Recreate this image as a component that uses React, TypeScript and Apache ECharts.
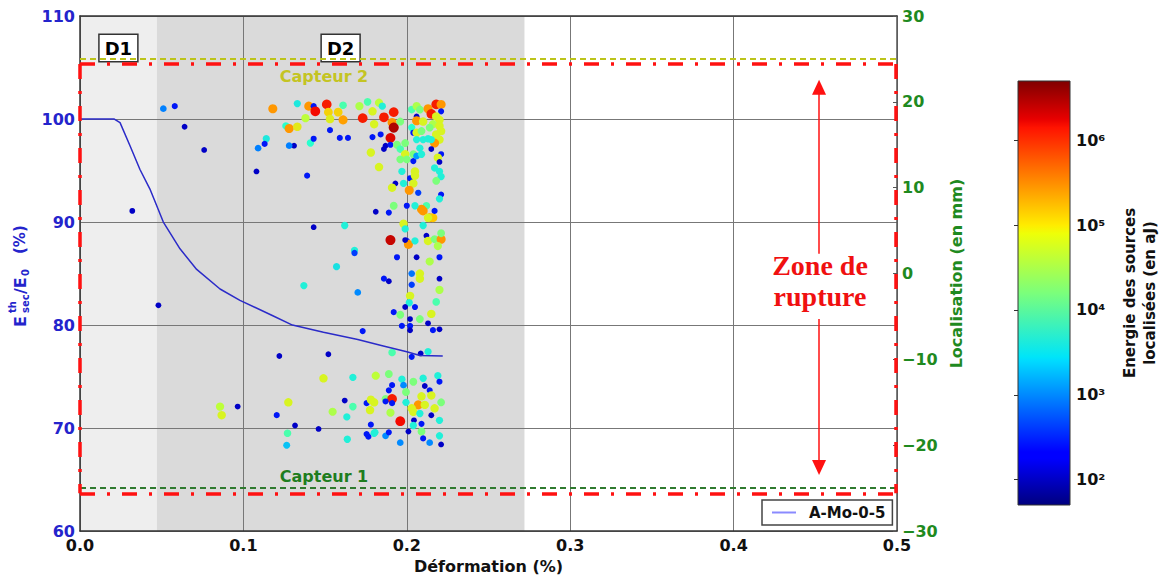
import React, { useEffect, useRef } from "react";
import * as echarts from "echarts";

// ---------------- data ----------------
const strainRange = [0, 0.5];
const modulusRange = [60, 110];
const locRange = [-30, 30];
const energyTickExponents = [2, 3, 4, 5, 6];
const energyLogRange = [1.7, 6.7];

// secant modulus curve (left axis)
const curveStrain = [0, 0.021, 0.0245, 0.0306, 0.0367, 0.0428, 0.051, 0.0612, 0.0714, 0.0857, 0.0979, 0.118, 0.13, 0.149, 0.17, 0.185, 0.2, 0.208, 0.222];
const curveModulus = [100, 100, 99.65, 97.4, 95.1, 93.2, 90.0, 87.4, 85.4, 83.5, 82.4, 80.9, 80.0, 79.3, 78.6, 78.0, 77.4, 77.05, 77.0];

// damage zones
const zoneNames = ["D1", "D2"];
const zoneStart = [0, 0.047];
const zoneEnd = [0.047, 0.272];

// sensors (right axis, mm)
const sensorNames = ["Capteur 2", "Capteur 1"];
const sensorLoc = [25, -25];

// rupture zone frame
const ruptureStrain = [0, 0.4995];
const ruptureLoc = [-25.6, 24.4];
const arrowStrain = 0.4523;
const arrowUp = [2.3, 21.7];
const arrowDown = [-5.3, -22.6];

// AE events: [strain (%), localisation (mm), log10 energy (aJ)]
const aeEvents: number[][] = [
  [0.051, 19.2, 2.95], [0.058, 19.5, 2.35], [0.064, 17.1, 2.0], [0.076, 14.4, 2.0], [0.032, 7.3, 2.0], [0.048, -3.7, 2.0],
  [0.118, 19.2, 5.45], [0.114, 15.7, 3.55], [0.109, 14.6, 2.95], [0.113, 15.1, 2.35], [0.108, 11.9, 2.0],
  [0.126, 17.2, 3.7], [0.128, 16.9, 5.45], [0.133, 17.1, 4.9], [0.133, 19.8, 3.55], [0.131, 14.9, 2.0], [0.128, 14.9, 2.95],
  [0.14, 19.5, 5.45], [0.143, 19.5, 2.35], [0.151, 19.7, 6.1], [0.144, 18.9, 6.2], [0.152, 18.8, 5.1], [0.158, 18.8, 5.1],
  [0.161, 19.6, 3.9], [0.153, 18.0, 4.85], [0.161, 17.9, 5.4], [0.138, 18.1, 4.6], [0.139, 11.4, 2.35], [0.141, 15.2, 3.7],
  [0.143, 15.7, 2.35], [0.153, 16.7, 2.35], [0.159, 15.8, 2.35], [0.164, 15.8, 2.35], [0.173, 18.1, 6.1], [0.171, 19.5, 4.5],
  [0.176, 20.0, 3.9], [0.179, 18.9, 4.8], [0.183, 19.9, 4.6], [0.185, 19.5, 3.6], [0.186, 18.2, 6.1], [0.192, 18.8, 6.1],
  [0.191, 17.6, 5.45], [0.192, 17.0, 6.5], [0.19, 15.8, 6.3], [0.196, 17.7, 4.2], [0.18, 17.4, 4.8], [0.179, 15.9, 2.35],
  [0.184, 16.2, 2.35], [0.187, 14.9, 2.0], [0.186, 14.5, 2.0], [0.19, 15.0, 2.35], [0.178, 14.1, 4.8], [0.183, 12.4, 4.8],
  [0.194, 15.0, 4.2], [0.196, 14.5, 3.9], [0.199, 15.2, 4.2], [0.204, 13.9, 4.2], [0.199, 13.9, 4.8], [0.2, 13.3, 4.2],
  [0.196, 13.3, 4.2], [0.197, 11.9, 3.6], [0.205, 11.9, 4.8], [0.204, 13.1, 2.35], [0.202, 11.1, 2.35], [0.205, 11.4, 4.8],
  [0.193, 10.5, 2.0], [0.198, 10.5, 3.6], [0.204, 10.5, 4.8], [0.191, 10.0, 4.8], [0.2015, 9.7, 5.45], [0.207, 9.4, 2.6],
  [0.203, 19.1, 3.9], [0.206, 19.5, 4.5], [0.208, 19.1, 4.2], [0.206, 18.3, 2.0], [0.206, 17.8, 5.45], [0.21, 17.7, 4.8],
  [0.203, 17.0, 3.7], [0.204, 16.4, 2.35], [0.206, 16.4, 4.8], [0.209, 16.6, 4.2], [0.206, 15.6, 3.6], [0.21, 15.6, 3.6],
  [0.213, 15.7, 3.6], [0.208, 14.6, 3.6], [0.206, 13.7, 3.1], [0.209, 13.9, 3.6], [0.213, 19.2, 5.45], [0.218, 19.7, 6.1],
  [0.221, 19.7, 5.45], [0.215, 18.6, 6.1], [0.221, 18.9, 2.35], [0.218, 18.3, 4.8], [0.22, 17.9, 4.8], [0.216, 17.4, 4.5],
  [0.22, 17.2, 4.8], [0.214, 17.0, 4.2], [0.221, 16.6, 4.8], [0.218, 16.2, 4.8], [0.22, 15.6, 4.8], [0.217, 15.2, 5.45],
  [0.215, 15.6, 3.6], [0.215, 14.5, 2.0], [0.221, 13.9, 2.35], [0.219, 13.5, 4.8], [0.22, 13.0, 2.0], [0.217, 12.3, 3.6],
  [0.22, 11.9, 3.6], [0.221, 11.3, 3.6], [0.218, 10.8, 4.2], [0.221, 9.2, 2.35], [0.22, 8.7, 3.6], [0.192, 7.9, 4.2],
  [0.2, 7.9, 2.35], [0.212, 7.9, 3.9], [0.209, 7.5, 5.45], [0.181, 7.2, 2.0], [0.189, 7.1, 2.35], [0.205, 7.9, 3.6],
  [0.21, 7.3, 5.45], [0.214, 6.5, 5.45], [0.216, 6.5, 5.2], [0.217, 7.3, 2.35], [0.213, 6.5, 4.8], [0.198, 5.8, 4.8],
  [0.21, 5.6, 3.6], [0.199, 5.2, 3.6], [0.19, 3.9, 6.4], [0.2, 3.8, 2.35], [0.201, 3.4, 5.45], [0.205, 3.8, 3.6],
  [0.212, 4.4, 2.0], [0.213, 3.8, 4.8], [0.217, 4.0, 4.2], [0.221, 4.0, 5.45], [0.221, 4.7, 4.2], [0.219, 3.2, 4.5],
  [0.194, 1.9, 2.35], [0.206, 1.9, 2.0], [0.22, 1.9, 2.35], [0.214, 1.4, 4.5], [0.199, 3.9, 2.0], [0.143, 5.4, 2.0],
  [0.162, 5.6, 3.6], [0.168, 2.7, 3.6], [0.168, 2.4, 2.6], [0.157, 0.8, 3.5], [0.203, 0.0, 2.9], [0.208, 0.0, 4.8],
  [0.208, -0.6, 4.8], [0.186, -0.6, 2.35], [0.189, -0.9, 2.0], [0.137, -1.4, 3.6], [0.203, -1.3, 2.6], [0.17, -2.2, 3.0],
  [0.202, -2.6, 4.8], [0.2015, -3.4, 3.6], [0.199, -3.9, 2.0], [0.205, -3.9, 2.35], [0.192, -4.5, 2.35], [0.196, -4.8, 4.2],
  [0.215, -4.7, 4.8], [0.202, -5.3, 2.0], [0.208, -5.3, 4.2], [0.197, -6.1, 2.35], [0.202, -6.1, 2.35], [0.213, -5.8, 2.0],
  [0.202, -6.6, 2.0], [0.216, -6.6, 2.35], [0.173, -6.7, 2.35], [0.22, -0.6, 2.0], [0.22, -1.9, 4.5], [0.218, -3.3, 3.9],
  [0.22, -6.5, 2.0], [0.122, -9.6, 2.0], [0.152, -9.4, 2.0], [0.191, -9.2, 3.9], [0.2085, -9.3, 2.0], [0.213, -9.1, 3.6],
  [0.203, -9.7, 2.35],
  [0.149, -12.2, 4.8], [0.167, -12.1, 3.6], [0.181, -11.9, 4.6], [0.189, -11.7, 4.2], [0.197, -12.3, 3.6], [0.191, -13.0, 2.35],
  [0.204, -12.6, 4.2], [0.198, -13.0, 3.0], [0.21, -12.2, 3.6], [0.219, -11.9, 3.6], [0.22, -12.6, 2.35], [0.211, -13.1, 2.0],
  [0.214, -13.6, 2.35], [0.189, -13.6, 2.35], [0.187, -14.6, 4.2], [0.191, -14.6, 6.1], [0.1995, -13.8, 4.2], [0.209, -14.3, 4.8],
  [0.215, -14.2, 4.8], [0.221, -15.0, 4.2], [0.191, -15.1, 2.35], [0.1995, -15.0, 3.6], [0.207, -15.3, 5.45], [0.203, -15.7, 4.8],
  [0.211, -15.3, 4.8], [0.217, -15.7, 4.8], [0.187, -14.9, 2.35], [0.18, -15.0, 4.8], [0.1775, -15.9, 4.8], [0.19, -16.2, 4.5],
  [0.204, -16.1, 4.8], [0.208, -16.3, 3.6], [0.215, -16.5, 2.0], [0.196, -17.2, 6.2], [0.2044, -17.1, 2.0], [0.204, -17.7, 3.6],
  [0.209, -17.5, 2.35], [0.22, -17.1, 3.6], [0.178, -17.6, 2.35], [0.1805, -18.5, 3.6], [0.187, -18.9, 3.0], [0.189, -18.5, 2.35],
  [0.201, -18.4, 2.0], [0.209, -18.4, 4.2], [0.21, -19.2, 2.35], [0.214, -19.7, 3.0], [0.22, -18.9, 3.6], [0.221, -19.9, 2.0],
  [0.196, -19.7, 3.0], [0.0857, -15.5, 4.6], [0.0867, -16.5, 4.8], [0.0965, -15.5, 2.0], [0.1275, -15.0, 4.8], [0.1204, -16.5, 2.35],
  [0.1316, -17.7, 2.0], [0.146, -18.1, 2.0], [0.127, -18.6, 3.9], [0.1265, -20.0, 3.3], [0.162, -14.8, 2.0], [0.1546, -16.1, 4.5],
  [0.1633, -16.7, 3.6], [0.167, -15.5, 3.9], [0.1636, -19.3, 3.6], [0.1754, -15.1, 2.35], [0.178, -14.7, 4.8], [0.1754, -18.7, 2.35],
  [0.1765, -19.0, 2.35], [0.18, -18.6, 3.6],
];

// ---------------- styling ----------------
const FONT = "DejaVu Sans";
const BLUE = "#2424cc";
const GREEN = "#1f8a1f";
const JET = ["#000080", "#0000f4", "#004cff", "#00b3ff", "#29ffce", "#7bff7b", "#ceff29", "#ffc600", "#ff6800", "#f40900", "#800000"];
const JET_STOPS: [number, string][] = [
  [0, "#00007f"], [0.11, "#0000ff"], [0.125, "#0000ff"], [0.34, "#00dbff"], [0.35, "#00e5f8"],
  [0.5, "#7bff7b"], [0.64, "#eeff08"], [0.66, "#ffec00"], [0.89, "#ff1300"], [0.91, "#e80000"], [1, "#800000"],
];
const SUP: Record<number, string> = { 2: "\u00b2", 3: "\u00b3", 4: "\u2074", 5: "\u2075", 6: "\u2076" };

function buildOption(): any {
  const curve = curveStrain.map((s, i) => [s, curveModulus[i]]);
  const zoneColors = ["#eeeeee", "#dadada"];
  const red = { color: "#ff1111", width: 3.5, type: [15, 12, 3, 12] };
  const arrowStyle = { color: "#ff1111", width: 1.5, type: "solid" };

  const sensorColors = ["#bcc41a", "#2f7a2f"];

  const yLabelParts = [
    { t: "E", x: 0, y: 0, s: 16 },
    { t: "th", x: 14, y: -8, s: 10 },
    { t: "sec", x: 14, y: 5, s: 10 },
    { t: "/E", x: 33, y: 0, s: 16 },
    { t: "0", x: 51, y: 5, s: 10 },
    { t: "(%)", x: 73, y: 0, s: 15 },
  ];

  return {
    animation: false,
    backgroundColor: "#ffffff",
    textStyle: { fontFamily: FONT },
    grid: [
      { left: 80, right: 264, top: 16, bottom: 46 },
      { left: 1018, top: 81, width: 62, height: 424 },
    ],
    legend: {
      data: [{ name: "A-Mo-0-5", icon: "rect", itemStyle: { color: "#8a8aff" } }],
      left: 762,
      top: 500,
      padding: [5, 7, 5, 10],
      itemWidth: 24,
      itemHeight: 2,
      borderColor: "#444",
      borderWidth: 1.5,
      borderRadius: 0,
      backgroundColor: "#fff",
      textStyle: { fontFamily: FONT, fontWeight: "bold", fontSize: 15, color: "#111", padding: [0, 0, 0, 8] },
    },
    visualMap: {
      type: "continuous",
      show: false,
      dimension: 2,
      seriesIndex: 2,
      min: energyLogRange[0],
      max: energyLogRange[1],
      inRange: { color: JET },
    },
    xAxis: [
      {
        type: "value",
        gridIndex: 0,
        min: strainRange[0],
        max: strainRange[1],
        interval: 0.1,
        position: "bottom",
        z: 2,
        axisLine: { show: true, onZero: false, lineStyle: { color: "#333", width: 1.5 } },
        axisTick: { show: false },
        axisLabel: { color: "#111", fontWeight: "bold", fontSize: 16, margin: 6, formatter: (v: number) => v.toFixed(1) },
        splitLine: { show: true, lineStyle: { color: "#777", width: 1 } },
        name: "Déformation (%)",
        nameLocation: "middle",
        nameGap: 24,
        nameTextStyle: { color: "#111", fontWeight: "bold", fontSize: 16 },
      },
      {
        type: "value",
        gridIndex: 0,
        min: strainRange[0],
        max: strainRange[1],
        position: "top",
        z: 2,
        axisLine: { show: true, onZero: false, lineStyle: { color: "#333", width: 1.5 } },
        axisTick: { show: false },
        axisLabel: { show: false },
        splitLine: { show: false },
      },
      { type: "value", gridIndex: 1, min: 0, max: 1, show: false },
    ],
    yAxis: [
      {
        type: "value",
        gridIndex: 0,
        min: modulusRange[0],
        max: modulusRange[1],
        interval: 10,
        position: "left",
        z: 2,
        axisLine: { show: true, onZero: false, lineStyle: { color: "#333", width: 1.5 } },
        axisTick: { show: false },
        axisLabel: { color: BLUE, fontWeight: "bold", fontSize: 16, margin: 5 },
        splitLine: { show: true, lineStyle: { color: "#777", width: 1 } },
      },
      {
        type: "value",
        gridIndex: 0,
        min: locRange[0],
        max: locRange[1],
        interval: 10,
        position: "right",
        z: 2,
        axisLine: { show: true, onZero: false, lineStyle: { color: "#555", width: 1.5 } },
        axisTick: { show: true, inside: true, length: 4, lineStyle: { color: "#555" } },
        axisLabel: {
          color: GREEN,
          fontWeight: "bold",
          fontSize: 16,
          margin: 5,
          formatter: (v: number) => (v < 0 ? "\u2212" + Math.abs(v) : String(v)),
        },
        splitLine: { show: false },
        name: "Localisation (en mm)",
        nameLocation: "middle",
        nameRotate: 90,
        nameGap: 50,
        nameTextStyle: { color: GREEN, fontWeight: "bold", fontSize: 16 },
      },
      {
        type: "value",
        gridIndex: 1,
        min: energyLogRange[0],
        max: energyLogRange[1],
        position: "right",
        axisLine: { show: false },
        axisTick: { show: true, inside: true, length: 4, customValues: energyTickExponents, lineStyle: { color: "#333" } },
        axisLabel: {
          show: true,
          customValues: energyTickExponents,
          color: "#111",
          fontWeight: "bold",
          fontSize: 16,
          margin: 6,
          formatter: (v: number) => "10" + SUP[Math.round(v)],
        },
        splitLine: { show: false },
        name: "Energie des sources\nlocalisées (en aJ)",
        nameLocation: "middle",
        nameRotate: 90,
        nameGap: 50,
        nameTextStyle: { color: "#111", fontWeight: "bold", fontSize: 15, lineHeight: 20 },
      },
    ],
    series: [
      {
        name: "zones",
        type: "line",
        xAxisIndex: 0,
        yAxisIndex: 0,
        data: [],
        z: 1,
        silent: true,
        markArea: {
          silent: true,
          z: 1,
          data: zoneNames.map((n, i) => [
            {
              name: n,
              xAxis: zoneStart[i],
              itemStyle: { color: zoneColors[i] },
              label: {
                show: true,
                position: "insideTop",
                offset: [0, 14],
                color: "#000",
                fontWeight: "bold",
                fontSize: 18,
                lineHeight: 20,
                fontFamily: FONT,
                backgroundColor: "#fff",
                borderColor: "#333",
                borderWidth: 1.5,
                padding: [3, 5, 3, 5],
              },
            },
            { xAxis: zoneEnd[i] },
          ]),
        },
      },
      {
        name: "A-Mo-0-5",
        type: "line",
        xAxisIndex: 0,
        yAxisIndex: 0,
        data: curve,
        symbol: "none",
        z: 4,
        lineStyle: { color: "#2b2bc8", width: 1.5 },
        itemStyle: { color: "#2b2bc8" },
      },
      {
        name: "AE",
        type: "scatter",
        xAxisIndex: 0,
        yAxisIndex: 1,
        data: aeEvents,
        z: 3,
        symbolSize: (v: number[]) => 5.5 + (v[2] - 1.7) * 0.95,
        itemStyle: { opacity: 1 },
        markLine: {
          silent: true,
          symbol: "none",
          label: { show: false },
          data: [
            [
              { coord: [strainRange[0], sensorLoc[0]], lineStyle: { color: sensorColors[0], width: 2, type: [6, 4] } },
              { coord: [strainRange[1], sensorLoc[0]] },
            ],
            [
              { coord: [strainRange[0], sensorLoc[1]], lineStyle: { color: sensorColors[1], width: 2, type: [6, 4] } },
              { coord: [strainRange[1], sensorLoc[1]] },
            ],
            [{ coord: [ruptureStrain[0], ruptureLoc[1]], lineStyle: red }, { coord: [ruptureStrain[1], ruptureLoc[1]] }],
            [{ coord: [ruptureStrain[0], ruptureLoc[0]], lineStyle: red }, { coord: [ruptureStrain[1], ruptureLoc[0]] }],
            [{ coord: [ruptureStrain[0], ruptureLoc[1]], lineStyle: red }, { coord: [ruptureStrain[0], ruptureLoc[0]] }],
            [{ coord: [ruptureStrain[1], ruptureLoc[1]], lineStyle: red }, { coord: [ruptureStrain[1], ruptureLoc[0]] }],
            [
              { coord: [arrowStrain, arrowUp[0]], symbol: "none", lineStyle: arrowStyle },
              { coord: [arrowStrain, arrowUp[1]], symbol: "triangle", symbolSize: [14, 15], itemStyle: { color: "#ff1111" } },
            ],
            [
              { coord: [arrowStrain, arrowDown[0]], symbol: "none", lineStyle: arrowStyle },
              { coord: [arrowStrain, arrowDown[1]], symbol: "triangle", symbolSize: [14, 15], itemStyle: { color: "#ff1111" } },
            ],
          ],
        },
      },
      {
        name: "colorbar",
        type: "custom",
        xAxisIndex: 2,
        yAxisIndex: 2,
        silent: true,
        data: [[0, energyLogRange[0]]],
        renderItem: (_p: any, api: any) => {
          const p0 = api.coord([0, energyLogRange[0]]);
          const p1 = api.coord([1, energyLogRange[1]]);
          return {
            type: "rect",
            shape: { x: p0[0], y: p1[1], width: p1[0] - p0[0], height: p0[1] - p1[1] },
            style: {
              fill: new echarts.graphic.LinearGradient(0, 1, 0, 0, JET_STOPS.map(([o, c]) => ({ offset: o, color: c }))),
              stroke: "#333",
              lineWidth: 1,
            },
          };
        },
      },
    ],
    graphic: [
      {
        type: "group",
        x: 20,
        y: 327,
        rotation: Math.PI / 2,
        children: yLabelParts.map((p) => ({
          type: "text",
          x: p.x,
          y: p.y,
          style: {
            text: p.t,
            fill: BLUE,
            fontSize: p.s,
            fontWeight: "bold",
            fontFamily: FONT,
            textAlign: "left",
            textVerticalAlign: "middle",
          },
        })),
      },
      ...sensorNames.map((n, i) => ({
        type: "text",
        x: 324,
        y: i === 0 ? 76 : 476,
        z: 10,
        style: {
          text: n,
          fill: i === 0 ? "#c4c423" : "#1e7d1e",
          fontSize: 16,
          fontWeight: "bold",
          fontFamily: FONT,
          textAlign: "center",
          textVerticalAlign: "middle",
        },
      })),
      ...["Zone de", "rupture"].map((t, i) => ({
        type: "text",
        x: 820,
        y: 265 + i * 31,
        z: 10,
        style: {
          text: t,
          fill: "#f01010",
          fontSize: 28,
          fontWeight: "bold",
          fontFamily: "Liberation Serif",
          textAlign: "center",
          textVerticalAlign: "middle",
        },
      })),
    ],
  };
}

export default function App() {
  const ref = useRef<HTMLDivElement>(null);
  useEffect(() => {
    document.body.style.margin = "0";
    if (!ref.current) return;
    const chart = echarts.init(ref.current, undefined, { renderer: "svg" });
    chart.setOption(buildOption());
    return () => chart.dispose();
  }, []);
  return <div ref={ref} style={{ width: 1161, height: 579, position: "absolute", left: 0, top: 0 }} />;
}
